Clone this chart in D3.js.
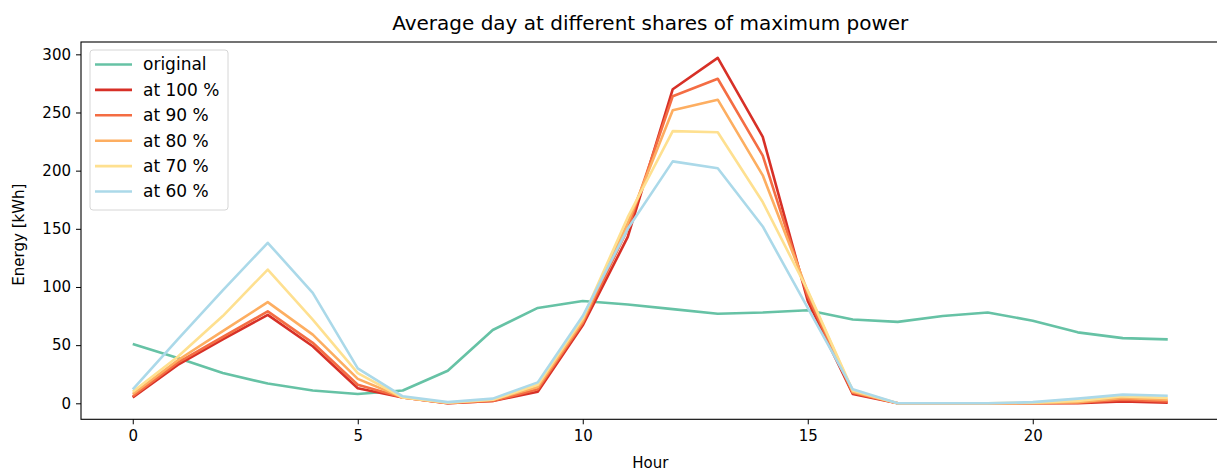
<!DOCTYPE html>
<html lang="en">
<head>
    <meta charset="UTF-8">
    <title>Average day</title>
    <script src="https://cdn.jsdelivr.net/npm/d3@7"></script>
    <style>
        body { margin: 0; background: #fff; }
        text { font-family: "DejaVu Sans", sans-serif; fill: #000; }
    </style>
</head>
<body>
    <svg width="1217" height="471"></svg>
    <script>
        // hours of the day
        var hours = d3.range(0, 24);

        var original = [51, 39, 26, 17, 11, 8, 11, 28, 63, 82, 88, 85, 81, 77, 78, 80, 72, 70, 75, 78, 71, 61, 56, 55];
        var at100 = [5, 33, 55, 76, 49, 13, 5, 0, 2, 10, 67, 143, 270, 297, 229, 88, 8, 0, 0, 0, 0, 0, 1.5, 0.5];
        var at90  = [6, 35, 57, 79, 52, 16, 5, 0, 2, 12, 69, 150, 264, 279, 213, 92, 9, 0, 0, 0, 0, 0.5, 3, 1.5];
        var at80  = [8, 37, 62, 87, 59, 21, 5, 0.5, 3, 14, 71, 155, 252, 261, 196, 96, 10, 0, 0, 0, 0, 1, 4.5, 3];
        var at70  = [10, 40, 75, 115, 72, 26, 5, 0.5, 3, 16, 73, 160, 234, 233, 173, 97, 11, 0, 0, 0, 0.5, 2, 6, 4.5];
        var at60  = [12, 55, 97, 138, 95, 30, 6, 1, 4, 18, 75, 150, 208, 202, 152, 82, 12, 0, 0, 0, 1, 4, 7.5, 6.5];

        var seriesNames = ["original", "at 100 %", "at 90 %", "at 80 %", "at 70 %", "at 60 %"];
        var seriesValues = [original, at100, at90, at80, at70, at60];
        var colors = ["#66c2a5", "#d73027", "#f46d43", "#fdae61", "#fee090", "#abd9e9"];

        var xTicks = [0, 5, 10, 15, 20];
        var yTicks = [0, 50, 100, 150, 200, 250, 300];

        var svg = d3.select("svg");
        var box = {left: 81, right: 1219.5, top: 42, bottom: 419.3};

        // matplotlib style 5% margins
        var xScale = d3.scaleLinear()
            .domain([-1.15, 24.15])
            .range([box.left, box.right]);
        var yScale = d3.scaleLinear()
            .domain([-13.75, 310.6])
            .range([box.bottom, box.top]);

        var xAxis = d3.axisBottom(xScale).tickValues(xTicks).tickSize(5).tickPadding(6);
        var yAxis = d3.axisLeft(yScale).tickValues(yTicks).tickSize(5).tickPadding(5);

        var gx = svg.append("g")
            .attr("transform", "translate(0," + box.bottom + ")")
            .call(xAxis);
        var gy = svg.append("g")
            .attr("transform", "translate(" + box.left + ",0)")
            .call(yAxis);
        [gx, gy].forEach(function(g) {
            g.select(".domain").remove();
            g.selectAll("text").attr("font-size", 15).attr("font-family", "DejaVu Sans").attr("fill", "#000");
            g.selectAll("line").attr("stroke", "#000").attr("stroke-width", 1);
        });

        // lines
        var line = d3.line()
            .x(function(d, i) { return xScale(hours[i]); })
            .y(function(d) { return yScale(d); });

        svg.append("g")
            .selectAll("path")
            .data(seriesValues)
            .enter()
            .append("path")
            .attr("d", line)
            .attr("fill", "none")
            .attr("stroke", function(d, i) { return colors[i]; })
            .attr("stroke-width", 2.6)
            .attr("stroke-linejoin", "round");

        // frame
        svg.append("rect")
            .attr("x", box.left)
            .attr("y", box.top)
            .attr("width", box.right - box.left)
            .attr("height", box.bottom - box.top)
            .attr("fill", "none")
            .attr("stroke", "#000")
            .attr("stroke-width", 1.1);

        // legend
        var legend = svg.append("g").attr("transform", "translate(90,50)");
        legend.append("rect")
            .attr("width", 138)
            .attr("height", 160)
            .attr("rx", 3)
            .attr("fill", "#fff")
            .attr("fill-opacity", 0.8)
            .attr("stroke", "#d6d6d6");
        var items = legend.selectAll(".item")
            .data(seriesNames)
            .enter()
            .append("g")
            .attr("transform", function(d, i) { return "translate(0," + (14.5 + i * 25.4) + ")"; });
        items.append("line")
            .attr("x1", 5).attr("x2", 42)
            .attr("stroke", function(d, i) { return colors[i]; })
            .attr("stroke-width", 2.6);
        items.append("text")
            .attr("x", 53)
            .attr("dy", "0.35em")
            .attr("font-size", 17)
            .text(function(d) { return d; });

        // titles
        svg.append("text")
            .attr("x", (box.left + box.right) / 2)
            .attr("y", 30)
            .attr("text-anchor", "middle")
            .attr("font-size", 20)
            .text("Average day at different shares of maximum power");
        svg.append("text")
            .attr("x", (box.left + box.right) / 2)
            .attr("y", 468)
            .attr("text-anchor", "middle")
            .attr("font-size", 15)
            .text("Hour");
        svg.append("text")
            .attr("transform", "translate(24," + ((box.top + box.bottom) / 2 + 4) + ") rotate(-90)")
            .attr("text-anchor", "middle")
            .attr("font-size", 15)
            .text("Energy [kWh]");
    </script>
</body>
</html>
